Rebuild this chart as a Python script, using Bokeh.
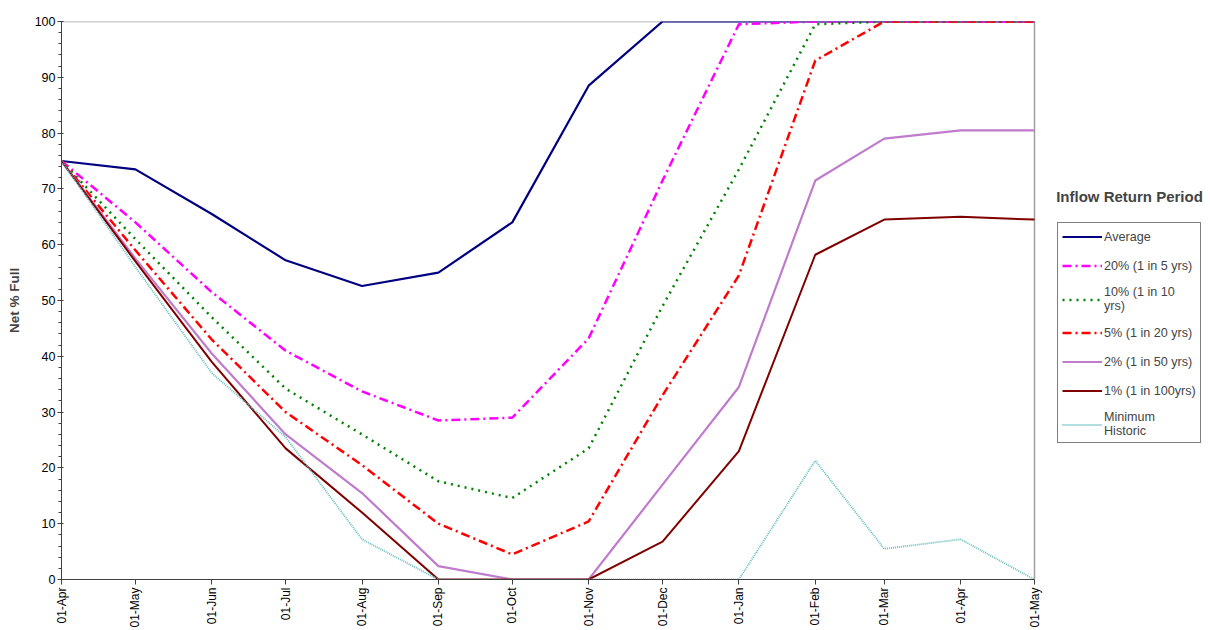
import datetime as dt
from bokeh.plotting import figure
from bokeh.models import (ColumnDataSource, Legend, LegendItem, FixedTicker,
                          DatetimeTickFormatter, Range1d, Label)
from bokeh.embed import file_html
from bokeh.resources import INLINE
import math

dates = ["2001-04-01", "2001-05-01", "2001-06-01", "2001-07-01", "2001-08-01",
         "2001-09-01", "2001-10-01", "2001-11-01", "2001-12-01", "2002-01-01",
         "2002-02-01", "2002-03-01", "2002-04-01", "2002-05-01"]

average   = [75, 73.5, 65.5, 57.2, 52.6, 55.0, 64.0, 88.5, 100, 100, 100, 100, 100, 100]
p20       = [75, 64.0, 51.5, 41.0, 33.7, 28.5, 29.0, 43.2, 71.5, 99.5, 100, 100, 100, 100]
p10       = [75, 61.0, 47.0, 34.2, 26.0, 17.6, 14.6, 23.5, 49.0, 73.5, 99.5, 100, 100, 100]
p5        = [75, 59.0, 43.0, 30.0, 20.5, 10.0, 4.5, 10.4, 33.0, 54.5, 93.0, 100, 100, 100]
p2        = [75, 57.5, 40.5, 26.0, 15.5, 2.4, 0, 0, 17.0, 34.5, 71.5, 79.0, 80.5, 80.5]
p1        = [75, 57.0, 39.0, 23.5, 12.0, 0, 0, 0, 6.8, 23.0, 58.2, 64.5, 65.0, 64.5]
min_hist  = [75, 56.0, 37.0, 25.5, 7.2, 0, 0, 0, 0, 0, 21.3, 5.5, 7.2, 0]

series_names = ["Average", "20% (1 in 5 yrs)", "10% (1 in 10\nyrs)", "5% (1 in 20 yrs)",
                "2% (1 in 50 yrs)", "1% (1 in 100yrs)", "Minimum\nHistoric"]
legend_title = "Inflow Return Period"
y_ticks = [0, 10, 20, 30, 40, 50, 60, 70, 80, 90, 100]

xs = [dt.datetime.strptime(d, "%Y-%m-%d") for d in dates]
src = ColumnDataSource(dict(x=xs, average=average, p20=p20, p10=p10, p5=p5,
                            p2=p2, p1=p1, min_hist=min_hist))

W, H = 1210, 630
ML, MR, MT, MB = 61, 4, 21, 50
frame_w = W - ML - MR
data_px = 973.0  # pixel width of the data span (Apr -> May)
span_days = (xs[-1] - xs[0]).days
x_end = xs[0] + dt.timedelta(days=span_days * frame_w / data_px)

p = figure(width=W, height=H, x_axis_type="datetime",
           output_backend="svg", toolbar_location=None,
           min_border_left=ML, min_border_right=MR, min_border_top=MT,
           min_border_bottom=MB)
p.x_range = Range1d(xs[0], x_end)
p.y_range = Range1d(y_ticks[0], y_ticks[-1])
p.xgrid.visible = False
p.ygrid.visible = False
p.outline_line_color = None
p.background_fill_color = "white"
p.border_fill_color = "white"

# plot-area border (top and right), drawn beneath the series
p.segment(x0=[xs[0], xs[-1]], y0=[y_ticks[-1], y_ticks[0]],
          x1=[xs[-1], xs[-1]], y1=[y_ticks[-1], y_ticks[-1]],
          line_color="#a0a0a0", line_width=1.5)

styles = [
    ("average", "#000080", 2.2, "solid"),
    ("p20", "#ff00ff", 2.5, "9 4 2 4"),
    ("p10", "#008000", 2.5, "2 5"),
    ("p5", "#ff0000", 2.5, "9 4 2 4"),
    ("p2", "#bf7bcc", 2.2, "solid"),
    ("p1", "#800000", 2.0, "solid"),
    ("min_hist", "#63bcbc", 1.8, "1 1"),
]
renderers = []
for col, color, w, dash in styles:
    r = p.line("x", col, source=src, line_color=color, line_width=w, line_dash=dash)
    renderers.append(r)

# axes
ms = [d.replace(tzinfo=dt.timezone.utc).timestamp() * 1000 for d in xs]
p.xaxis.ticker = FixedTicker(ticks=ms)
p.xaxis.bounds = (ms[0], ms[-1])
fmt = "%d-%b"
p.xaxis.formatter = DatetimeTickFormatter(milliseconds=fmt, seconds=fmt, minsec=fmt,
                                          minutes=fmt, hourmin=fmt, hours=fmt, days=fmt,
                                          months=fmt, years=fmt)
p.xaxis.major_label_orientation = math.pi / 2
p.xaxis.major_label_standoff = 3
p.xaxis.major_tick_out = 5
p.xaxis.major_tick_in = 0
p.xaxis.minor_tick_out = 0
p.xaxis.minor_tick_in = 0

p.yaxis.ticker = FixedTicker(ticks=y_ticks, minor_ticks=list(range(0, 101, 2)))
p.yaxis.major_tick_out = 4
p.yaxis.major_tick_in = 2
p.yaxis.minor_tick_out = 3
p.yaxis.minor_tick_in = 0
p.yaxis.major_label_standoff = 2
p.yaxis.axis_label = "Net % Full"
p.yaxis.axis_label_text_font_style = "bold"
p.yaxis.axis_label_text_font_size = "13.5px"
p.yaxis.axis_label_text_font = "Liberation Sans"
p.yaxis.axis_label_standoff = 10

for ax in (p.xaxis, p.yaxis):
    ax.axis_line_color = "#404040"
    ax.major_tick_line_color = "#404040"
    ax.minor_tick_line_color = "#404040"
    ax.major_label_text_font = "Liberation Sans"
    ax.major_label_text_color = "black"
p.xaxis.major_label_text_font_size = "12px"
p.yaxis.major_label_text_font_size = "12.5px"

items = [LegendItem(label=n, renderers=[r]) for n, r in zip(series_names, renderers)]
legend = Legend(items=items, location=(996, 136), orientation="vertical",
                glyph_width=40, glyph_height=19, label_height=19,
                label_standoff=2, spacing=10, padding=4, margin=0,
                label_text_font="Liberation Sans", label_text_font_size="12.6px",
                label_text_line_height=1.12,
                border_line_color="black", border_line_width=1,
                background_fill_alpha=1.0)
p.add_layout(legend, "center")

title = Label(x=1068, y=383, x_units="screen", y_units="screen",
              text=legend_title, text_font="Liberation Sans",
              text_font_size="15px", text_font_style="bold", text_align="center",
              text_baseline="middle")
p.add_layout(title)

open("out.html", "w").write(file_html(p, INLINE))
